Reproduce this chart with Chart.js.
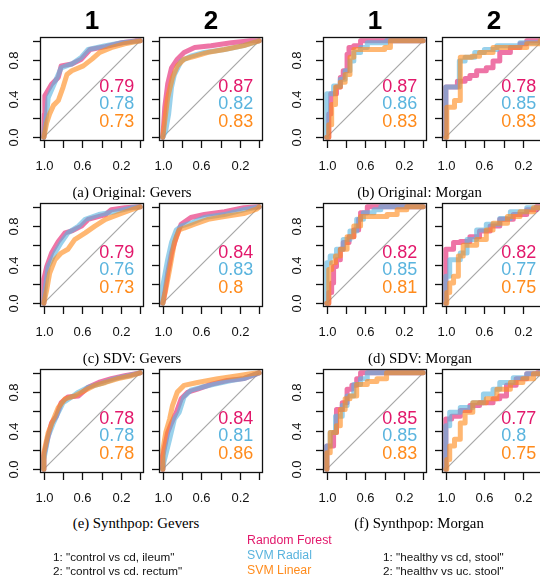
<!DOCTYPE html>
<html>
<head>
<meta charset="utf-8">
<script src="https://cdn.jsdelivr.net/npm/chart.js@4.4.0/dist/chart.umd.min.js"></script>
<style>
  body { margin:0; background:#fff; width:540px; height:575px; overflow:hidden; position:relative;
         font-family:"Liberation Sans", Arial, sans-serif; color:#000; }
  canvas { position:absolute; }
  .t { position:absolute; white-space:nowrap; line-height:1; }
  .head { font-weight:bold; font-size:26px; transform:translate(-50%,-50%); }
  .cap { font-family:"Liberation Serif", "Times New Roman", serif; font-size:14.8px; transform:translate(-50%,-50%); }
  .leg { font-size:12.3px; transform:translateY(-50%); }
  .note { font-size:11.7px; transform:translateY(-50%); }
</style>
</head>
<body>
<div id="fig"></div>
<script>
// ---- data: [specificity, sensitivity] points of each ROC curve ----
const origGev1RF  = [[1,0],[0.995,0.24],[0.99,0.43],[0.92,0.55],[0.85,0.62],[0.82,0.74],[0.71,0.76],[0.61,0.81],[0.52,0.91],[0.36,0.94],[0.19,0.98],[0.05,1],[0,1]];
const origGev1Rad = [[1,0],[0.97,0.25],[0.955,0.41],[0.885,0.57],[0.82,0.72],[0.71,0.76],[0.61,0.83],[0.54,0.91],[0.36,0.95],[0.19,0.98],[0,1]];
const origGev1Lin = [[1,0],[0.97,0.15],[0.94,0.24],[0.9,0.33],[0.85,0.38],[0.8,0.52],[0.76,0.65],[0.71,0.69],[0.59,0.74],[0.5,0.81],[0.42,0.88],[0.3,0.93],[0.16,0.97],[0,1]];

const origGev2RF  = [[1,0],[0.98,0.31],[0.95,0.55],[0.91,0.72],[0.85,0.81],[0.78,0.88],[0.67,0.93],[0.5,0.95],[0.29,0.98],[0.09,1],[0,1]];
const origGev2Rad = [[1,0],[0.97,0.07],[0.94,0.24],[0.91,0.52],[0.88,0.65],[0.81,0.79],[0.71,0.84],[0.57,0.88],[0.36,0.91],[0.16,0.95],[0,1]];
const origGev2Lin = [[1,0],[0.98,0.17],[0.95,0.41],[0.9,0.62],[0.85,0.74],[0.78,0.81],[0.67,0.84],[0.53,0.88],[0.36,0.91],[0.16,0.95],[0,1]];

const origMor1RF  = [[1,0],[0.98,0.24],[0.96,0.45],[0.9,0.52],[0.86,0.62],[0.83,0.69],[0.79,0.86],[0.77,0.93],[0.72,0.95],[0.65,1],[0,1]];
const origMor1Rad = [[1,0],[1,0.45],[0.93,0.53],[0.86,0.6],[0.81,0.69],[0.76,0.79],[0.72,0.88],[0.65,0.93],[0.58,0.98],[0.38,1],[0,1]];
const origMor1Lin = [[1,0],[0.98,0.13],[0.95,0.34],[0.91,0.52],[0.86,0.57],[0.81,0.65],[0.76,0.83],[0.72,0.91],[0.4,0.93],[0.34,1],[0,1]];

const origMor2RF  = [[1,0],[1,0.52],[0.88,0.58],[0.8,0.61],[0.75,0.64],[0.68,0.69],[0.58,0.72],[0.51,0.79],[0.44,0.88],[0.33,0.93],[0.23,0.97],[0.16,1],[0,1]];
const origMor2Rad = [[1,0],[1,0.52],[0.86,0.79],[0.8,0.83],[0.7,0.88],[0.6,0.91],[0.47,0.95],[0.23,0.98],[0.02,1],[0,1]];
const origMor2Lin = [[1,0],[0.99,0.31],[0.91,0.38],[0.85,0.83],[0.73,0.84],[0.65,0.88],[0.51,0.93],[0.16,0.97],[0.02,1],[0,1]];

const sdvGev1RF  = [[1,0],[1,0.25],[0.97,0.38],[0.92,0.52],[0.85,0.64],[0.78,0.73],[0.71,0.75],[0.61,0.8],[0.54,0.87],[0.36,0.92],[0.3,0.97],[0.16,0.99],[0,1]];
const sdvGev1Rad = [[1,0],[0.99,0.11],[0.955,0.38],[0.885,0.52],[0.82,0.63],[0.75,0.73],[0.64,0.8],[0.57,0.87],[0.43,0.92],[0.26,0.95],[0.09,0.99],[0,1]];
const sdvGev1Lin = [[1,0],[0.97,0.14],[0.94,0.31],[0.885,0.45],[0.82,0.52],[0.75,0.56],[0.68,0.66],[0.57,0.73],[0.47,0.8],[0.36,0.87],[0.23,0.92],[0.09,0.97],[0,1]];

const sdvGev2RF  = [[1,0],[0.98,0.11],[0.95,0.31],[0.91,0.52],[0.86,0.69],[0.81,0.82],[0.71,0.89],[0.57,0.92],[0.36,0.95],[0.16,0.99],[0,1]];
const sdvGev2Rad = [[1,0],[1,0.18],[0.95,0.45],[0.91,0.63],[0.86,0.76],[0.81,0.8],[0.71,0.83],[0.57,0.89],[0.36,0.92],[0.16,0.97],[0,1]];
const sdvGev2Lin = [[1,0],[0.97,0.14],[0.93,0.35],[0.88,0.63],[0.83,0.76],[0.78,0.78],[0.67,0.82],[0.53,0.87],[0.36,0.9],[0.16,0.93],[0.02,0.98],[0,1]];

const sdvMor1RF  = [[1,0],[0.98,0.11],[0.95,0.21],[0.93,0.38],[0.9,0.45],[0.86,0.56],[0.83,0.63],[0.77,0.69],[0.72,0.76],[0.67,0.87],[0.65,0.94],[0.58,1],[0,1]];
const sdvMor1Rad = [[1,0],[1,0.42],[0.965,0.49],[0.9,0.56],[0.83,0.66],[0.76,0.75],[0.69,0.87],[0.62,0.94],[0.51,0.97],[0.44,1],[0,1]];
const sdvMor1Lin = [[1,0],[0.98,0.35],[0.95,0.42],[0.91,0.49],[0.86,0.56],[0.79,0.69],[0.72,0.8],[0.65,0.9],[0.375,0.92],[0.27,0.97],[0.17,1],[0,1]];

const sdvMor2RF  = [[1,0],[1,0.56],[0.92,0.63],[0.85,0.64],[0.75,0.69],[0.65,0.75],[0.54,0.8],[0.44,0.87],[0.3,0.92],[0.16,0.97],[0.06,1],[0,1]];
const sdvMor2Rad = [[1,0],[1,0.28],[0.96,0.45],[0.85,0.52],[0.78,0.66],[0.68,0.76],[0.58,0.82],[0.44,0.88],[0.33,0.95],[0.16,0.99],[0,1]];
const sdvMor2Lin = [[1,0],[0.99,0.11],[0.96,0.21],[0.92,0.28],[0.87,0.49],[0.82,0.6],[0.68,0.66],[0.58,0.76],[0.51,0.83],[0.36,0.9],[0.23,0.95],[0.09,0.99],[0,1]];

const synGev1RF  = [[1,0],[1,0.14],[0.97,0.28],[0.92,0.48],[0.87,0.55],[0.82,0.69],[0.75,0.75],[0.64,0.76],[0.54,0.85],[0.43,0.9],[0.3,0.94],[0.16,0.97],[0,1]];
const synGev1Rad = [[1,0],[1,0.1],[0.955,0.34],[0.9,0.48],[0.85,0.59],[0.8,0.69],[0.71,0.75],[0.64,0.8],[0.54,0.85],[0.4,0.89],[0.26,0.94],[0.12,0.97],[0,1]];
const synGev1Lin = [[1,0],[1,0.17],[0.955,0.38],[0.9,0.52],[0.85,0.64],[0.78,0.73],[0.68,0.76],[0.57,0.82],[0.47,0.87],[0.36,0.9],[0.23,0.94],[0.09,0.97],[0,1]];

const synGev2RF  = [[1,0],[1,0.14],[0.95,0.38],[0.91,0.48],[0.86,0.59],[0.81,0.73],[0.74,0.8],[0.64,0.83],[0.5,0.88],[0.33,0.92],[0.16,0.94],[0,1]];
const synGev2Rad = [[1,0],[0.99,0.07],[0.93,0.31],[0.88,0.52],[0.83,0.59],[0.78,0.75],[0.71,0.82],[0.6,0.85],[0.47,0.88],[0.29,0.92],[0.16,0.94],[0,1]];
const synGev2Lin = [[1,0],[1,0.2],[0.97,0.38],[0.93,0.52],[0.9,0.66],[0.85,0.8],[0.78,0.87],[0.64,0.9],[0.43,0.94],[0.22,0.97],[0.09,0.99],[0,1]];

const synMor1RF  = [[1,0],[1,0.24],[0.93,0.38],[0.9,0.62],[0.84,0.69],[0.79,0.83],[0.74,0.87],[0.69,0.94],[0.65,1],[0,1]];
const synMor1Rad = [[1,0],[1,0.24],[0.965,0.38],[0.91,0.55],[0.84,0.66],[0.79,0.76],[0.72,0.88],[0.65,0.94],[0.58,1],[0,1]];
const synMor1Lin = [[1,0],[1,0.17],[0.965,0.38],[0.9,0.45],[0.86,0.62],[0.81,0.73],[0.76,0.76],[0.69,0.88],[0.58,0.91],[0.48,0.94],[0.38,1],[0,1]];

const synMor2RF  = [[1,0],[1,0.52],[0.94,0.55],[0.85,0.61],[0.75,0.66],[0.65,0.69],[0.51,0.73],[0.44,0.76],[0.37,0.87],[0.27,0.94],[0.16,0.99],[0.05,1],[0,1]];
const synMor2Rad = [[1,0],[1,0.45],[0.96,0.59],[0.85,0.64],[0.72,0.69],[0.61,0.78],[0.51,0.83],[0.44,0.9],[0.3,0.95],[0.16,0.99],[0.03,1],[0,1]];
const synMor2Lin = [[1,0],[0.99,0.1],[0.96,0.24],[0.91,0.31],[0.85,0.48],[0.8,0.59],[0.72,0.69],[0.58,0.73],[0.47,0.83],[0.33,0.9],[0.2,0.94],[0.09,0.99],[0,1]];

// AUC labels per panel: RF, SVM Radial, SVM Linear
const aucOrig = [['0.79','0.78','0.73'], ['0.87','0.82','0.83'], ['0.87','0.86','0.83'], ['0.78','0.85','0.83']];
const aucSdv  = [['0.79','0.76','0.73'], ['0.84','0.83','0.8'],  ['0.82','0.85','0.81'], ['0.82','0.77','0.75']];
const aucSyn  = [['0.78','0.78','0.78'], ['0.84','0.81','0.86'], ['0.85','0.85','0.83'], ['0.77','0.8','0.75']];

const specTicks  = [1, 0.8, 0.6, 0.4, 0.2, 0];
const specLabels = ['1.0', '', '0.6', '', '0.2', ''];
const sensTicks  = [0, 0.2, 0.4, 0.6, 0.8, 1];
const sensLabels = ['0.0', '', '0.4', '', '0.8', ''];
const modelNames = ['Random Forest', 'SVM Radial', 'SVM Linear'];
const comparisons = ['1', '2', '1', '2'];
const captions = ['(a) Original: Gevers', '(b) Original: Morgan', '(c) SDV: Gevers',
                  '(d) SDV: Morgan', '(e) Synthpop: Gevers', '(f) Synthpop: Morgan'];
const notesGevers = ['1: "control vs cd, ileum"', '2: "control vs cd, rectum"'];
const notesMorgan = ['1: "healthy vs cd, stool"', '2: "healthy vs uc, stool"'];

const textColors = ['#e2186b', '#5ab4de', '#ff8b1c'];
const lineColors = ['rgba(226,24,107,0.6)', 'rgba(90,180,222,0.62)', 'rgba(255,139,28,0.62)'];
const aucRows = [0.52, 0.34, 0.16];

const grid = [
  [[origGev1RF, origGev1Rad, origGev1Lin], [origGev2RF, origGev2Rad, origGev2Lin],
   [origMor1RF, origMor1Rad, origMor1Lin], [origMor2RF, origMor2Rad, origMor2Lin]],
  [[sdvGev1RF, sdvGev1Rad, sdvGev1Lin], [sdvGev2RF, sdvGev2Rad, sdvGev2Lin],
   [sdvMor1RF, sdvMor1Rad, sdvMor1Lin], [sdvMor2RF, sdvMor2Rad, sdvMor2Lin]],
  [[synGev1RF, synGev1Rad, synGev1Lin], [synGev2RF, synGev2Rad, synGev2Lin],
   [synMor1RF, synMor1Rad, synMor1Lin], [synMor2RF, synMor2Rad, synMor2Lin]]
];
const aucs = [aucOrig, aucSdv, aucSyn];

// ---- layout ----
const colLeft = [40, 159, 323, 442];
const rowTop = [37, 203, 369];
const box = 104;
const fig = document.getElementById('fig');

function addText(cls, txt, x, y, color) {
  const d = document.createElement('div');
  d.className = 't ' + cls;
  d.textContent = txt;
  d.style.left = x + 'px';
  d.style.top = y + 'px';
  if (color) d.style.color = color;
  fig.appendChild(d);
}

const rocFrame = {
  id: 'rocFrame',
  afterDatasetsDraw(chart, args, opts) {
    const ctx = chart.ctx, a = chart.chartArea;
    const xs = chart.scales.x, ys = chart.scales.y;
    ctx.save();
    ctx.font = '18px "Liberation Sans", Arial, sans-serif';
    ctx.textAlign = 'left';
    ctx.textBaseline = 'middle';
    opts.auc.forEach((v, i) => {
      ctx.fillStyle = textColors[i];
      ctx.fillText(v, xs.getPixelForValue(0.425), ys.getPixelForValue(aucRows[i]));
    });
    ctx.strokeStyle = '#111';
    ctx.lineWidth = 1.3;
    ctx.strokeRect(a.left + 0.5, a.top + 0.5, a.right - a.left - 1, a.bottom - a.top - 1);
    ctx.fillStyle = '#111';
    ctx.font = '13px "Liberation Sans", Arial, sans-serif';
    ctx.textAlign = 'center';
    specTicks.forEach((t, i) => {
      const x = Math.round(xs.getPixelForValue(t)) + 0.5;
      ctx.beginPath(); ctx.moveTo(x, a.bottom); ctx.lineTo(x, a.bottom + 7); ctx.stroke();
      if (specLabels[i]) ctx.fillText(specLabels[i], x, a.bottom + 25);
    });
    sensTicks.forEach((t, i) => {
      const y = Math.round(ys.getPixelForValue(t)) + 0.5;
      ctx.beginPath(); ctx.moveTo(a.left, y); ctx.lineTo(a.left - 7, y); ctx.stroke();
      if (opts.yLabels && sensLabels[i]) {
        ctx.save();
        ctx.translate(a.left - 26, y);
        ctx.rotate(-Math.PI / 2);
        ctx.fillText(sensLabels[i], 0, 0);
        ctx.restore();
      }
    });
    ctx.restore();
  }
};

grid.forEach((row, r) => {
  row.forEach((curves, c) => {
    const cv = document.createElement('canvas');
    cv.width = box + 45;
    cv.height = box + 45;
    cv.style.left = (colLeft[c] - 40) + 'px';
    cv.style.top = (rowTop[r] - 5) + 'px';
    fig.appendChild(cv);
    const morgan = c >= 2;
    const datasets = curves.map((pts, i) => ({
      label: modelNames[i],
      data: pts,
      borderColor: lineColors[i],
      borderWidth: 5,
      borderCapStyle: 'round',
      borderJoinStyle: 'round',
      pointRadius: 0,
      fill: false,
      tension: 0,
      stepped: morgan ? 'before' : false,
      order: 3 - i
    }));
    datasets.push({
      label: 'chance', data: [[1, 0], [0, 1]], borderColor: '#a8a8a8',
      borderWidth: 1.2, pointRadius: 0, fill: false, order: 4
    });
    new Chart(cv.getContext('2d'), {
      type: 'line',
      data: { datasets: datasets },
      options: {
        responsive: false,
        animation: false,
        devicePixelRatio: 1,
        layout: { padding: { left: 40, top: 5, right: 5, bottom: 40 } },
        scales: {
          x: { type: 'linear', reverse: true, min: -0.04, max: 1.04, display: false },
          y: { type: 'linear', min: -0.04, max: 1.04, display: false }
        },
        plugins: {
          legend: { display: false },
          tooltip: { enabled: false },
          rocFrame: { auc: aucs[r][c], yLabels: c === 0 || c === 2 }
        }
      },
      plugins: [rocFrame]
    });
    if (r === 0) addText('head', comparisons[c], colLeft[c] + box / 2, 20);
  });
});

// captions
const capX = [[132, 419.5], [132, 420], [136, 419]];
const capY = [191.5, 357.5, 522.5];
capY.forEach((y, r) => {
  addText('cap', captions[r * 2], capX[r][0], y);
  addText('cap', captions[r * 2 + 1], capX[r][1], y);
});

// legend and notes
const legY = [540, 554.5, 569.5];
modelNames.forEach((m, i) => addText('leg', m, 247, legY[i], textColors[i]));
notesGevers.forEach((n, i) => addText('note', n, 53, 556.5 + i * 14, '#111'));
notesMorgan.forEach((n, i) => addText('note', n, 383, 556.5 + i * 14, '#111'));
</script>
</body>
</html>
